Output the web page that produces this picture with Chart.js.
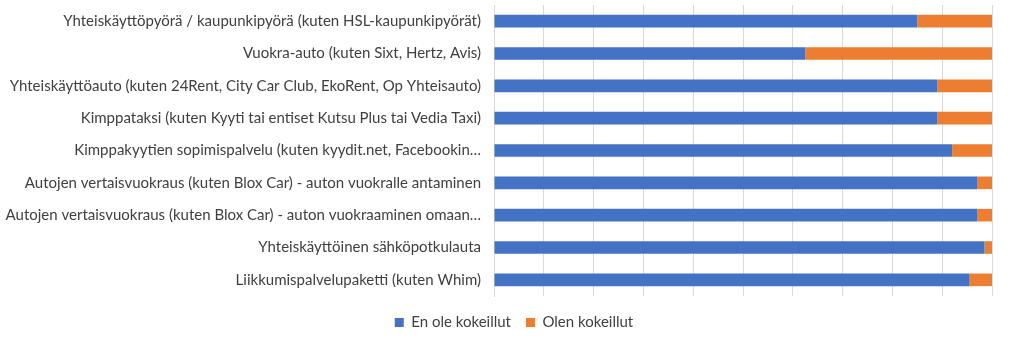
<!DOCTYPE html>
<html>
<head>
<meta charset="utf-8">
<script src="https://cdn.jsdelivr.net/npm/chart.js@4/dist/chart.umd.min.js"></script>
<style>
  html, body { margin: 0; padding: 0; background: #fff; }
  #wrap { width: 1024px; height: 340px; position: relative; }
</style>
</head>
<body>
<div id="wrap"><canvas id="kokeilu"></canvas></div>
<script>
const palvelut = [
  'Yhteiskäyttöpyörä / kaupunkipyörä (kuten HSL-kaupunkipyörät)',
  'Vuokra-auto (kuten Sixt, Hertz, Avis)',
  'Yhteiskäyttöauto (kuten 24Rent, City Car Club, EkoRent, Op Yhteisauto)',
  'Kimppataksi (kuten Kyyti tai entiset Kutsu Plus tai Vedia Taxi)',
  'Kimppakyytien sopimispalvelu (kuten kyydit.net, Facebookin…',
  'Autojen vertaisvuokraus (kuten Blox Car) - auton vuokralle antaminen',
  'Autojen vertaisvuokraus (kuten Blox Car) - auton vuokraaminen omaan…',
  'Yhteiskäyttöinen sähköpotkulauta',
  'Liikkumispalvelupaketti (kuten Whim)'
];
// percentages of respondents
const enOleKokeillut = [85, 62.5, 89, 89, 92, 97, 97, 98.5, 95.5];
const olenKokeillut  = [15, 37.5, 11, 11, 8, 3, 3, 1.5, 4.5];

const FONT = 'Lato, "Open Sans", sans-serif';
const TEXT = '#404040';

// centre the legend under the whole figure instead of the padded box
const legendShift = {
  id: 'legendShift',
  afterLayout(chart) {
    const lg = chart.legend;
    const dx = (chart.width - (lg.left + lg.right)) / 2 + 2;
    lg.left += dx;
    lg.right += dx;
  }
};

new Chart(document.getElementById('kokeilu'), {
  type: 'bar',
  data: {
    labels: palvelut,
    datasets: [
      { label: 'En ole kokeillut', data: enOleKokeillut, backgroundColor: '#4472C4' },
      { label: 'Olen kokeillut', data: olenKokeillut, backgroundColor: '#ED7D31' }
    ]
  },
  plugins: [legendShift],
  options: {
    indexAxis: 'y',
    responsive: true,
    maintainAspectRatio: false,
    animation: false,
    barPercentage: 0.39,
    categoryPercentage: 1,
    layout: { padding: { left: 0, right: 32, top: 5, bottom: 0 } },
    scales: {
      x: {
        stacked: true,
        min: 0,
        max: 100,
        ticks: { display: false, stepSize: 10 },
        grid: { color: '#d9d9d9', drawTicks: false },
        border: { display: false },
        afterFit(scale) { scale.height += 4; }
      },
      y: {
        stacked: true,
        grid: { display: false, drawTicks: false },
        border: { color: '#d9d9d9' },
        ticks: { color: TEXT, font: { family: FONT, size: 15 }, padding: 13 },
        afterFit(scale) {
          scale.width = 494;
          scale.paddingTop = 0;
          scale.paddingBottom = 0;
        }
      }
    },
    plugins: {
      tooltip: { enabled: false },
      legend: {
        position: 'bottom',
        labels: {
          color: TEXT,
          font: { family: FONT, size: 15 },
          boxWidth: 9,
          boxHeight: 9,
          padding: 15
        }
      }
    }
  }
});
</script>
</body>
</html>
